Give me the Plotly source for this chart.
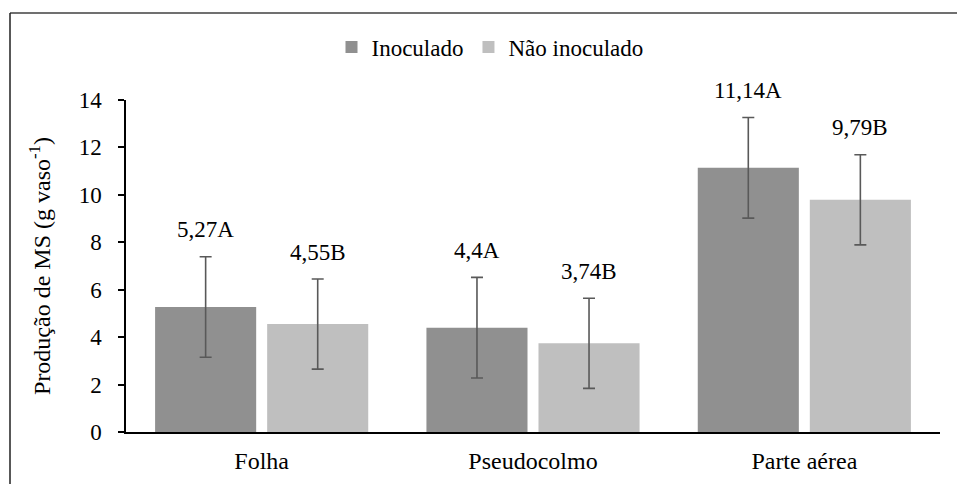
import plotly.graph_objects as go

categories = ["Folha", "Pseudocolmo", "Parte aérea"]
inoculado = [5.27, 4.40, 11.14]
nao_inoculado = [4.55, 3.74, 9.79]
err_inoculado = [2.12, 2.12, 2.12]
err_nao_inoculado = [1.90, 1.90, 1.90]
labels_inoculado = ["5,27A", "4,4A", "11,14A"]
labels_nao_inoculado = ["4,55B", "3,74B", "9,79B"]
y_ticks = [0, 2, 4, 6, 8, 10, 12, 14]

FONT = "Liberation Serif"
FS = 23

fig = go.Figure()
fig.add_trace(go.Bar(
    name="Inoculado", x=categories, y=inoculado,
    marker=dict(color="#909090", line=dict(width=0)),
    error_y=dict(type="data", array=err_inoculado, color="#595959", thickness=1.6, width=6),
))
fig.add_trace(go.Bar(
    name="Não inoculado", x=categories, y=nao_inoculado,
    marker=dict(color="#bfbfbf", line=dict(width=0)),
    error_y=dict(type="data", array=err_nao_inoculado, color="#595959", thickness=1.6, width=6),
))

for i, cat in enumerate(categories):
    for j, (vals, errs, labs) in enumerate([(inoculado, err_inoculado, labels_inoculado),
                                            (nao_inoculado, err_nao_inoculado, labels_nao_inoculado)]):
        fig.add_annotation(
            x=cat, y=vals[i] + errs[i], text=labs[i], showarrow=False,
            xref="x", yref="y", xshift=(-56 if j == 0 else 56), yshift=27,
            yanchor="middle", font=dict(family=FONT, size=FS, color="black"),
        )

W, H = 957, 484
L, R, T, B = 126, 17, 100, 52
PW, PH = W - L - R, H - T - B
X0, Y0 = L, H - B


def px(x):
    return (x - X0) / PW


def py(y):
    return (Y0 - y) / PH


fig.update_layout(
    width=W, height=H,
    margin=dict(l=L, r=R, t=T, b=B, autoexpand=False),
    paper_bgcolor="white", plot_bgcolor="white",
    barmode="group", bargap=0.174, bargroupgap=0.098,
    font=dict(family=FONT, size=FS, color="black"),
    showlegend=True,
    legend=dict(orientation="h", x=px(490), xanchor="center", y=py(47), yanchor="middle",
                font=dict(family=FONT, size=FS, color="black"), itemwidth=30,
                traceorder="normal", bgcolor="rgba(0,0,0,0)"),
    xaxis=dict(showline=True, linecolor="black", linewidth=1.5, ticks="outside", ticklen=0,
               tickfont=dict(family=FONT, size=24), ticklabelstandoff=6, showgrid=False,
               automargin=False),
    yaxis=dict(range=[0, 14], tickvals=y_ticks, showline=True, linecolor="black", linewidth=1.5,
               ticks="outside", ticklen=6, tickcolor="black", tickwidth=1.5,
               tickfont=dict(family=FONT, size=FS), ticklabelstandoff=12, showgrid=False,
               zeroline=False, automargin=False,
               title=dict(text="Produção de MS (g vaso<sup>-1</sup>)", standoff=21,
                          font=dict(family=FONT, size=24))),
    shapes=[
        dict(type="line", xref="paper", yref="paper",
             x0=px(10), x1=px(1000), y0=py(13), y1=py(13),
             line=dict(color="#404040", width=1.3), layer="below"),
        dict(type="line", xref="paper", yref="paper",
             x0=px(10), x1=px(10), y0=py(13), y1=py(560),
             line=dict(color="#202020", width=1.5), layer="below"),
    ],
)

fig.write_html(
    "out.html",
    config={"displayModeBar": False},
    post_script="document.body.style.margin='0';document.body.style.overflow='hidden';",
)
